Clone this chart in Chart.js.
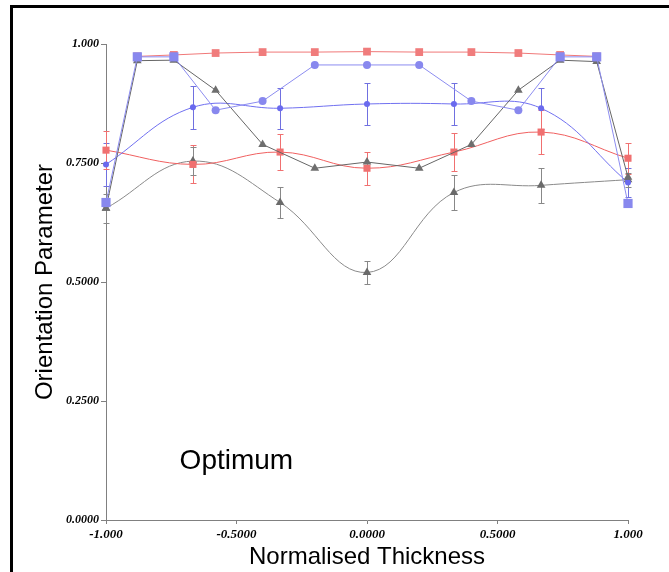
<!DOCTYPE html>
<html>
<head>
<meta charset="utf-8">
<script src="https://cdn.jsdelivr.net/npm/chart.js@4.4.1/dist/chart.umd.min.js"></script>
<style>
  html, body { margin: 0; padding: 0; background: #fff; }
  #wrap { position: relative; width: 669px; height: 572px; overflow: hidden; }
  #frame { position: absolute; left: 10px; top: 5px; width: 700px; height: 600px; border: 3px solid #000; }
  canvas { position: absolute; left: 0; top: 0; }
</style>
</head>
<body>
<div id="wrap">
  <canvas id="chart" width="669" height="572"></canvas>
  <div id="frame"></div>
</div>
<script>
// Tick labels
const xTickLabels = ['-1.000', '-0.5000', '0.0000', '0.5000', '1.000'];
const yTickLabels = ['0.0000', '0.2500', '0.5000', '0.7500', '1.000'];

// Positions through the thickness (straight-line series)
const xFine = [-1, -0.88, -0.74, -0.58, -0.4, -0.2, 0, 0.2, 0.4, 0.58, 0.74, 0.88, 1];
const xRedTop = [-0.88, -0.74, -0.58, -0.4, -0.2, 0, 0.2, 0.4, 0.58, 0.74, 0.88];
// Positions of the averaged (smooth) series
const xCoarse = [-1, -0.667, -0.333, 0, 0.333, 0.667, 1];

// Straight series values
const redTop = [0.974, 0.977, 0.981, 0.983, 0.983, 0.984, 0.983, 0.983, 0.981, 0.977, 0.974];
const blueTop = [0.667, 0.973, 0.973, 0.861, 0.880, 0.956, 0.956, 0.956, 0.880, 0.861, 0.973, 0.973, 0.665];
const greyTop = [0.655, 0.965, 0.966, 0.903, 0.789, 0.739, 0.752, 0.739, 0.789, 0.903, 0.966, 0.963, 0.72];

// Smooth series values and their errors
const blueMean = [0.747, 0.867, 0.865, 0.874, 0.874, 0.865, 0.709];
const blueErr = [0.045, 0.045, 0.043, 0.045, 0.045, 0.043, 0.03];
const redMean = [0.777, 0.747, 0.773, 0.739, 0.773, 0.815, 0.76];
const redErr = [0.04, 0.04, 0.038, 0.035, 0.04, 0.046, 0.033];
const greyMean = [0.655, 0.754, 0.667, 0.52, 0.688, 0.703, 0.715];
const greyErr = [0.03, 0.03, 0.033, 0.025, 0.036, 0.036, 0.015];

const noteText = 'Optimum';

function points(xs, ys) {
    return xs.map((x, i) => ({ x: x, y: ys[i] }));
}

// marker shapes for the blue straight series: squares near the surfaces
const blueShapes = xFine.map(x => Math.abs(x) >= 0.7 ? 'rect' : 'circle');
const blueRadius = xFine.map(x => Math.abs(x) >= 0.7 ? 6.5 : 4);

// Error bars drawn from the dataset values
const errorBarPlugin = {
    id: 'errorBars',
    beforeDatasetsDraw(chart) {
        const { ctx, scales: { x, y } } = chart;
        chart.data.datasets.forEach((ds) => {
            if (!ds.errors) return;
            ctx.save();
            ctx.strokeStyle = ds.errorColor;
            ctx.lineWidth = 1;
            ds.data.forEach((p, i) => {
                const e = ds.errors[i];
                const px = Math.round(x.getPixelForValue(p.x)) + 0.5;
                const top = Math.round(y.getPixelForValue(p.y + e)) + 0.5;
                const bot = Math.round(y.getPixelForValue(p.y - e)) + 0.5;
                ctx.beginPath();
                ctx.moveTo(px, top); ctx.lineTo(px, bot);
                ctx.moveTo(px - 3, top); ctx.lineTo(px + 3, top);
                ctx.moveTo(px - 3, bot); ctx.lineTo(px + 3, bot);
                ctx.stroke();
            });
            ctx.restore();
        });
    }
};

// "Optimum" label inside the plot
const noteLabel = {
    id: 'noteLabel',
    afterDraw(chart) {
        const { ctx, scales: { x, y } } = chart;
        ctx.save();
        ctx.font = '28px "Liberation Sans", Arial, sans-serif';
        ctx.fillStyle = '#000';
        ctx.textBaseline = 'middle';
        ctx.fillText(noteText, x.getPixelForValue(-0.718), y.getPixelForValue(0.124));
        ctx.restore();
    }
};

const xTickFont = { family: "'Liberation Serif', 'Times New Roman', serif", size: 13, style: 'italic', weight: 'bold' };
const yTickFont = { family: "'Liberation Serif', 'Times New Roman', serif", size: 12, style: 'italic', weight: 'bold' };
const titleFont = { family: "'Liberation Sans', Arial, sans-serif", size: 24, weight: 'normal' };

new Chart(document.getElementById('chart'), {
    type: 'scatter',
    data: {
        datasets: [
            {
                data: points(xFine, blueTop),
                showLine: true,
                borderColor: '#8c8cf0',
                backgroundColor: '#8888ee',
                borderWidth: 1,
                pointStyle: blueShapes,
                pointRadius: blueRadius,
                pointBorderWidth: 0,
                clip: false
            },
            {
                data: points(xFine, greyTop),
                showLine: true,
                borderColor: '#666666',
                backgroundColor: '#6e6e6e',
                borderWidth: 1,
                pointStyle: 'triangle',
                pointRadius: 5,
                pointBorderWidth: 0,
                clip: false
            },
            {
                data: points(xRedTop, redTop),
                showLine: true,
                borderColor: '#f07878',
                backgroundColor: '#f07c7c',
                borderWidth: 1,
                pointStyle: 'rect',
                pointRadius: 5.5,
                pointBorderWidth: 0,
                clip: false
            },
            {
                data: points(xCoarse, blueMean),
                showLine: true,
                tension: 0.4,
                borderColor: '#7070f0',
                backgroundColor: '#6a6aee',
                borderWidth: 1,
                pointStyle: 'circle',
                pointRadius: 3,
                pointBorderWidth: 0,
                errors: blueErr,
                errorColor: '#7070e0',
                clip: false
            },
            {
                data: points(xCoarse, redMean),
                showLine: true,
                tension: 0.4,
                borderColor: '#f06060',
                backgroundColor: '#f07070',
                borderWidth: 1,
                pointStyle: 'rect',
                pointRadius: 5,
                pointBorderWidth: 0,
                errors: redErr,
                errorColor: '#f07070',
                clip: false
            },
            {
                data: points(xCoarse, greyMean),
                showLine: true,
                tension: 0.4,
                borderColor: '#8a8a8a',
                backgroundColor: '#6a6a6a',
                borderWidth: 1,
                pointStyle: 'triangle',
                pointRadius: 5,
                pointBorderWidth: 0,
                errors: greyErr,
                errorColor: '#888888',
                clip: false
            }
        ]
    },
    options: {
        responsive: false,
        animation: false,
        layout: { padding: { top: 44, right: 41, bottom: 0, left: 0 } },
        plugins: {
            legend: { display: false },
            tooltip: { enabled: false }
        },
        scales: {
            x: {
                type: 'linear',
                position: 'bottom',
                min: -1,
                max: 1,
                border: { color: '#808080', width: 1 },
                grid: { drawOnChartArea: false, tickLength: 4, color: '#808080' },
                ticks: {
                    stepSize: 0.5,
                    autoSkip: false,
                    maxRotation: 0,
                    padding: 3,
                    color: '#000',
                    font: xTickFont,
                    callback: (v, i) => xTickLabels[i]
                },
                title: {
                    display: true,
                    text: 'Normalised Thickness',
                    color: '#000',
                    font: titleFont,
                    padding: { top: 0, bottom: 0 }
                },
                afterFit(scale) { scale.height = 52; }
            },
            y: {
                type: 'linear',
                position: 'left',
                min: 0,
                max: 1,
                border: { color: '#808080', width: 1 },
                grid: { drawOnChartArea: false, tickLength: 5, color: '#808080' },
                ticks: {
                    stepSize: 0.25,
                    autoSkip: false,
                    padding: 2,
                    color: '#000',
                    font: yTickFont,
                    callback: (v, i) => yTickLabels[i]
                },
                title: {
                    display: true,
                    text: 'Orientation Parameter',
                    color: '#000',
                    font: titleFont,
                    padding: { top: 31, bottom: 0 }
                },
                afterFit(scale) { scale.width = 106; }
            }
        }
    },
    plugins: [errorBarPlugin, noteLabel]
});
</script>
</body>
</html>
